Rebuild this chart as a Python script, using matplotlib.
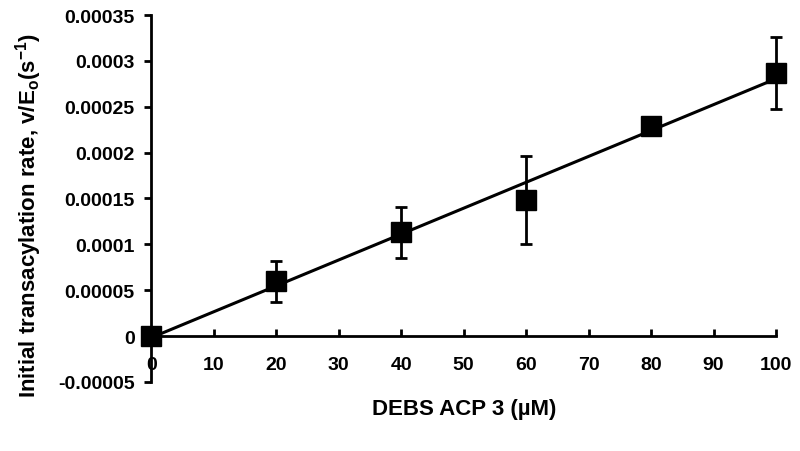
import numpy as np
import matplotlib as mpl
mpl.use("Agg")
import matplotlib.pyplot as plt

plt.rcParams['font.family'] = ['Liberation Sans', 'DejaVu Sans']
plt.rcParams['font.weight'] = 'bold'
plt.rcParams['mathtext.fontset'] = 'custom'
plt.rcParams['mathtext.rm'] = 'Liberation Sans:bold'
plt.rcParams['mathtext.bf'] = 'Liberation Sans:bold'
plt.rcParams['mathtext.default'] = 'bf'

# data
conc = [0, 20, 40, 60, 80, 100]
rate = [0.0, 0.0000598, 0.000113, 0.000148, 0.000229, 0.0002866]
err = [0.0, 0.0000225, 0.000028, 0.000048, 0.0, 0.000039]

xticks = [0, 10, 20, 30, 40, 50, 60, 70, 80, 90, 100]
yticks = [-0.00005, 0, 0.00005, 0.0001, 0.00015, 0.0002, 0.00025, 0.0003, 0.00035]
ylabels = ['-0.00005', '0', '0.00005', '0.0001', '0.00015', '0.0002', '0.00025', '0.0003', '0.00035']

fig = plt.figure(figsize=(8, 4.52), dpi=100)
ax = fig.add_axes([0.189, 0.1527, 0.781, 0.8119])

# linear trendline
slope, icpt = np.polyfit(conc, rate, 1)
xf = np.array([conc[0], conc[-1]])
ax.plot(xf, slope * xf + icpt, color='black', lw=2.2, zorder=2, clip_on=False)

ebar = ax.errorbar(conc, rate, yerr=err, fmt='s', color='black', ms=14,
                   ecolor='black', elinewidth=2, capsize=4.5, capthick=2, zorder=3)
for art in ebar.get_children():
    art.set_clip_on(False)

ax.set_xlim(0, 100)
ax.set_ylim(-0.00005, 0.00035)
ax.set_xticks(xticks)
ax.set_yticks(yticks)
ax.set_yticklabels(ylabels)

for s in ['top', 'right']:
    ax.spines[s].set_visible(False)
ax.spines['bottom'].set_position(('data', 0))
ax.spines['left'].set_linewidth(2)
ax.spines['bottom'].set_linewidth(2)

ax.tick_params(axis='x', direction='in', length=5, width=2, pad=14, labelsize=14)
ax.tick_params(axis='y', direction='out', length=5, width=2, pad=7, labelsize=14)

fig.text(0.036, 0.522, 'Initial transacylation rate, v/E$_o$(s$^{-1}$)',
         rotation=90, ha='center', va='center', fontsize=16, fontweight='bold')
fig.text(0.58, 0.093, 'DEBS ACP 3 (\u00b5M)', ha='center', va='center',
         fontsize=16, fontweight='bold')

fig.savefig('out.png', dpi=100)
